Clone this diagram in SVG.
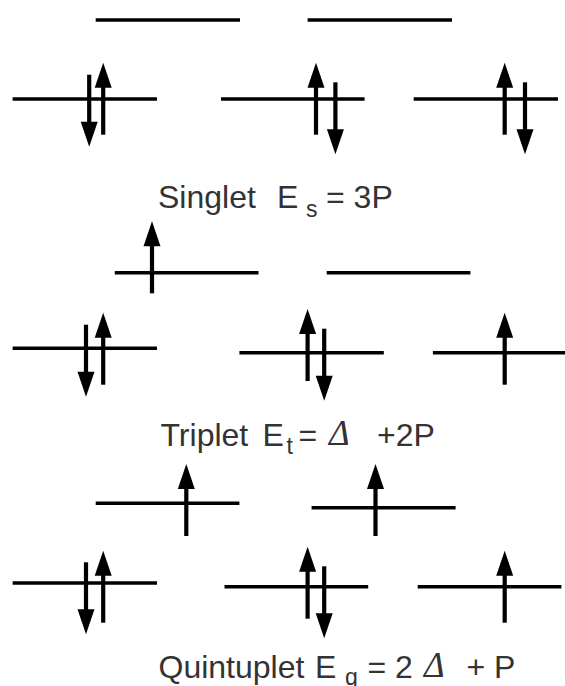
<svg xmlns="http://www.w3.org/2000/svg" xmlns:xlink="http://www.w3.org/1999/xlink" width="565" height="686" viewBox="0 0 565 686">
<style>
.lv{stroke:#000;stroke-width:3.4;fill:none}
.lbl{font-family:"Liberation Sans",Arial,sans-serif;font-size:32px;fill:#333}
.sub{font-size:23px}
.dl{font-family:"Liberation Serif","Times New Roman",serif;font-style:italic;font-size:35px;fill:#333}
</style>
<defs>
<g id="up"><path d="M0,0 L8.5,25 L-8.5,25 Z"/><rect x="-2.1" y="23" width="4.2" height="49"/></g>
<g id="dn"><path d="M0,0 L8.5,-25 L-8.5,-25 Z"/><rect x="-2.1" y="-72" width="4.2" height="49"/></g>
</defs>
<rect width="565" height="686" fill="#fff"/>
<g id="singlet">
<g id="s-eg1"><line class="lv" x1="95.7" y1="20" x2="240" y2="20"/></g>
<g id="s-eg2"><line class="lv" x1="307.6" y1="20" x2="452" y2="20"/></g>
<g id="s-t1"><line class="lv" x1="12.6" y1="99" x2="157" y2="99"/><use href="#dn" x="89.2" y="146.7"/><use href="#up" x="103.2" y="62.7"/></g>
<g id="s-t2"><line class="lv" x1="221" y1="99" x2="364.6" y2="99"/><use href="#up" x="316" y="62.7"/><use href="#dn" x="335.4" y="154.3"/></g>
<g id="s-t3"><line class="lv" x1="413.7" y1="99" x2="558" y2="99"/><use href="#up" x="504.7" y="62.7"/><use href="#dn" x="525" y="154.3"/></g>
<text class="lbl" y="208"><tspan x="158">Singlet  </tspan><tspan x="277">E</tspan><tspan x="306" y="217" class="sub">s</tspan><tspan x="326" y="208">= 3P</tspan></text>
</g>
<g id="triplet">
<g id="t-eg1"><line class="lv" x1="114.8" y1="272.7" x2="258.5" y2="272.7"/><use href="#up" x="152" y="221.3"/></g>
<g id="t-eg2"><line class="lv" x1="326.7" y1="272.7" x2="470.4" y2="272.7"/></g>
<g id="t-t1"><line class="lv" x1="12.6" y1="348.3" x2="157" y2="348.3"/><use href="#dn" x="86" y="396.7"/><use href="#up" x="103.2" y="312.7"/></g>
<g id="t-t2"><line class="lv" x1="239.4" y1="352.7" x2="383.8" y2="352.7"/><use href="#up" x="307.6" y="309"/><use href="#dn" x="324.2" y="400.7"/></g>
<g id="t-t3"><line class="lv" x1="432.9" y1="352.7" x2="565" y2="352.7"/><use href="#up" x="504.7" y="312.7"/></g>
<text class="lbl" y="446"><tspan x="160.5">Triplet </tspan><tspan x="262.5">E</tspan><tspan x="286.5" y="454" class="sub">t</tspan><tspan x="298.5" y="446">=</tspan></text>
<text class="dl" x="329" y="445">Δ</text>
<text class="lbl" x="377" y="446">+2P</text>
</g>
<g id="quintuplet">
<g id="q-eg1"><line class="lv" x1="95.7" y1="503.3" x2="239.4" y2="503.3"/><use href="#up" x="186.3" y="464"/></g>
<g id="q-eg2"><line class="lv" x1="311.6" y1="507.7" x2="455.6" y2="507.7"/><use href="#up" x="375.5" y="464"/></g>
<g id="q-t1"><line class="lv" x1="12.6" y1="583" x2="157" y2="583"/><use href="#dn" x="86" y="634.3"/><use href="#up" x="103.2" y="550.7"/></g>
<g id="q-t2"><line class="lv" x1="224.5" y1="586.7" x2="368.2" y2="586.7"/><use href="#up" x="307.6" y="546.7"/><use href="#dn" x="324.2" y="638.3"/></g>
<g id="q-t3"><line class="lv" x1="417.7" y1="586.7" x2="561.4" y2="586.7"/><use href="#up" x="504.7" y="550.7"/></g>
<text class="lbl" y="678"><tspan x="158.5">Quintuplet </tspan><tspan x="315">E</tspan><tspan x="345" y="685" class="sub">q</tspan><tspan x="367.5" y="678">= 2</tspan></text>
<text class="dl" x="424" y="677">Δ</text>
<text class="lbl" x="466.5" y="678">+ P</text>
</g>
</svg>
